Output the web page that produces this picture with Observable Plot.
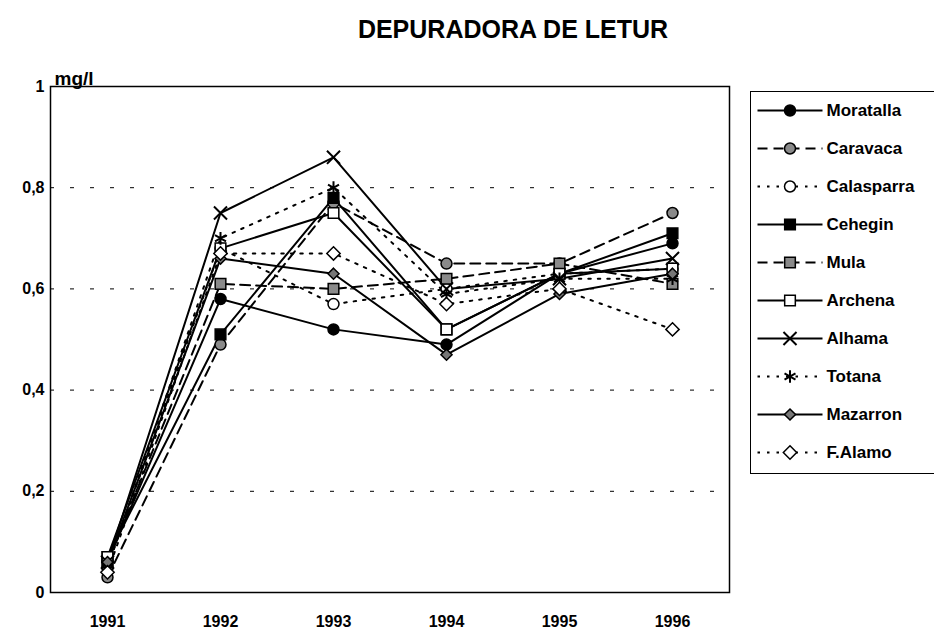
<!DOCTYPE html>
<html><head><meta charset="utf-8">
<script src="https://cdn.jsdelivr.net/npm/d3@7"></script>
<script src="https://cdn.jsdelivr.net/npm/@observablehq/plot@0.6"></script>
<style>
body{margin:0;background:#fff;font-family:"Liberation Sans",Arial,Helvetica,sans-serif;}
#wrap{position:relative;width:934px;height:631px;overflow:hidden;background:#fff;}
#chart{position:absolute;left:0;top:0;}
#title{position:absolute;left:313px;width:400px;top:15px;text-align:center;font-weight:bold;font-size:25px;color:#000;}
#legend{position:absolute;left:750px;top:91px;width:200px;height:381px;border:1.5px solid #000;background:#fff;}
</style></head><body>
<div id="wrap"><div id="chart"></div><div id="title">DEPURADORA DE LETUR</div><div id="legend"></div></div>
<script>
const years = [1991, 1992, 1993, 1994, 1995, 1996];
const moratalla  = [0.06, 0.58, 0.52, 0.49, 0.63, 0.69];
const caravaca   = [0.03, 0.49, 0.77, 0.65, 0.65, 0.75];
const calasparra = [0.05, 0.68, 0.57, 0.60, 0.63, 0.64];
const cehegin    = [0.07, 0.51, 0.78, 0.52, 0.63, 0.71];
const mula       = [0.06, 0.61, 0.60, 0.62, 0.65, 0.61];
const archena    = [0.07, 0.68, 0.75, 0.52, 0.63, 0.64];
const alhama     = [0.06, 0.75, 0.86, 0.60, 0.62, 0.66];
const totana     = [0.05, 0.70, 0.80, 0.59, 0.62, 0.62];
const mazarron   = [0.06, 0.66, 0.63, 0.47, 0.59, 0.63];
const fAlamo     = [0.04, 0.67, 0.67, 0.57, 0.60, 0.52];
const seriesNames = ["Moratalla", "Caravaca", "Calasparra", "Cehegin", "Mula", "Archena", "Alhama", "Totana", "Mazarron", "F.Alamo"];
const seriesValues = [moratalla, caravaca, calasparra, cehegin, mula, archena, alhama, totana, mazarron, fAlamo];
const yTicks = [0, 0.2, 0.4, 0.6, 0.8, 1];
const yTickLabels = ["0", "0,2", "0,4", "0,6", "0,8", "1"];
const gridValues = [0.2, 0.4, 0.6, 0.8];
const title = "DEPURADORA DE LETUR";
const unitLabel = "mg/l";

// styles (not data)
const DASH = "10,6", DOT = "2.5,7";
const styles = {
  "Moratalla":  {dash: null, symbol: "circle",   fill: "black", r: 5.5},
  "Caravaca":   {dash: DASH, symbol: "circle",   fill: "#8a8a8a", r: 5.5},
  "Calasparra": {dash: DOT,  symbol: "circle",   fill: "white", r: 5.5},
  "Cehegin":    {dash: null, symbol: "square",   fill: "black", r: 6},
  "Mula":       {dash: DASH, symbol: "square",   fill: "#8a8a8a", r: 6},
  "Archena":    {dash: null, symbol: "square",   fill: "white", r: 6},
  "Alhama":     {dash: null, symbol: "times",    fill: "none", r: 6},
  "Totana":     {dash: DOT,  symbol: "asterisk", fill: "none", r: 6},
  "Mazarron":   {dash: null, symbol: "diamond2", fill: "#777", r: 5},
  "F.Alamo":    {dash: DOT,  symbol: "diamond2", fill: "white", r: 6}
};

const rows = [];
seriesNames.forEach((name, s) => years.forEach((yr, i) => rows.push({series: name, year: yr, value: seriesValues[s][i]})));

const seriesMarks = [];
seriesNames.forEach(name => {
  const st = styles[name];
  const d = rows.filter(r => r.series === name);
  seriesMarks.push(Plot.line(d, {x: "year", y: "value", stroke: "black", strokeWidth: 2, strokeDasharray: st.dash || undefined}));
});
seriesNames.forEach(name => {
  const st = styles[name];
  const d = rows.filter(r => r.series === name);
  seriesMarks.push(Plot.dot(d, {x: "year", y: "value", symbol: st.symbol, r: st.r, fill: st.fill, stroke: "black", strokeWidth: st.fill === "none" ? 2 : 1.5}));
});

document.getElementById("title").textContent = title;

const chart = Plot.plot({
  width: 740, height: 631,
  marginLeft: 50, marginRight: 11, marginTop: 86, marginBottom: 39,
  style: {fontFamily: "'Liberation Sans', Arial, sans-serif", fontSize: "16px", fontWeight: "bold", color: "black", background: "transparent", overflow: "visible"},
  x: {type: "point", domain: years, padding: 0.5, label: null},
  y: {domain: [0, 1], label: null},
  marks: [
    Plot.ruleY(gridValues, {stroke: "black", strokeWidth: 1, strokeDasharray: "4,16"}),
    Plot.frame({stroke: "black", strokeWidth: 1.5}),
    Plot.axisX({tickSize: 0, tickPadding: 23, tickFormat: d => String(d), fontSize: 16, fontWeight: "bold", label: null}),
    Plot.axisY({ticks: yTicks, tickFormat: d => yTickLabels[yTicks.indexOf(d)], tickSize: 0, tickPadding: 6, fontSize: 16, fontWeight: "bold", label: null}),
    Plot.text([unitLabel], {frameAnchor: "top-left", dx: 4, dy: -15, text: d => d, textAnchor: "start", fontSize: 19, fontWeight: "bold"}),
    ...seriesMarks
  ]
});
document.getElementById("chart").appendChild(chart);

// legend
const legendRows = seriesNames.map(n => ({name: n}));
const legendMarks = [];
seriesNames.forEach(name => {
  const st = styles[name];
  const d = legendRows.filter(r => r.name === name);
  legendMarks.push(Plot.link(d, {x1: () => 0, x2: () => 1, y1: "name", y2: "name", stroke: "black", strokeWidth: 2, strokeDasharray: st.dash || undefined}));
  legendMarks.push(Plot.dot(d, {x: () => 0.5, y: "name", symbol: st.symbol, r: st.r, fill: st.fill, stroke: "black", strokeWidth: st.fill === "none" ? 2 : 1.5}));
});
legendMarks.push(Plot.text(legendRows, {x: () => 1, y: "name", text: "name", dx: 4, textAnchor: "start", fontSize: 17, fontWeight: "bold"}));

const legend = Plot.plot({
  width: 200, height: 381,
  marginLeft: 6, marginRight: 129, marginTop: 17, marginBottom: 21,
  style: {fontFamily: "'Liberation Sans', Arial, sans-serif", color: "black", background: "transparent", overflow: "visible"},
  x: {domain: [0, 1], axis: null},
  y: {type: "point", domain: seriesNames, padding: 0, axis: null},
  marks: legendMarks
});
document.getElementById("legend").appendChild(legend);
</script>
</body></html>
